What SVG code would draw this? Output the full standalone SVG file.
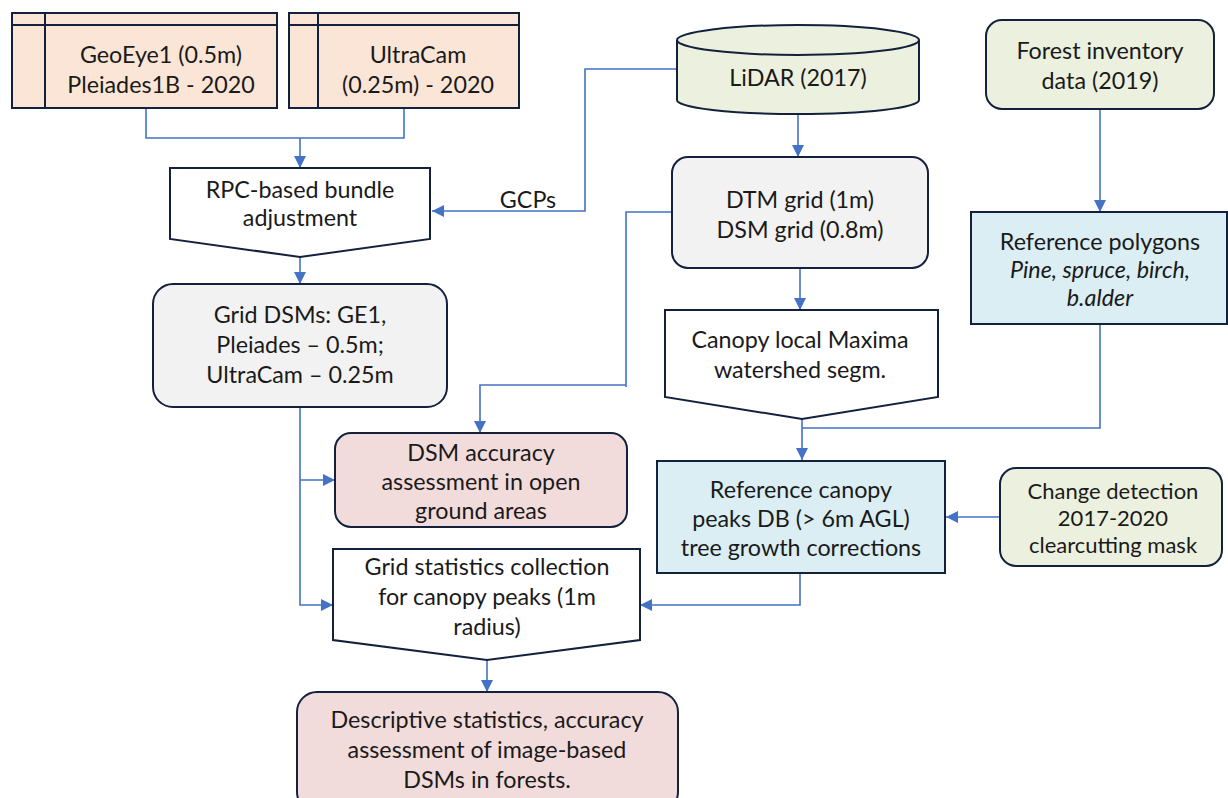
<svg xmlns="http://www.w3.org/2000/svg" width="1228" height="798" viewBox="0 0 1228 798">
<style>
.box{stroke:#14213d;stroke-width:2}
.peach{fill:#fbe5d6}
.green{fill:#ebf1de}
.gray{fill:#f2f2f2}
.pink{fill:#f2dcdb}
.blue{fill:#dbeef4}
.white{fill:#ffffff}
.in{fill:none;stroke:#14213d;stroke-width:2}
text{font-family:Lato,"Liberation Sans",sans-serif;font-size:23.3px;fill:#1a1a1a;text-anchor:middle}
.it{font-style:italic}
.sm{font-size:22px}
.con{fill:none;stroke:#4472c4;stroke-width:1.6}
</style>
<defs>
<marker id="ah" markerUnits="userSpaceOnUse" markerWidth="14" markerHeight="14" refX="12" refY="7" orient="auto">
<path d="M0,1 L12,7 L0,13 Z" fill="#4472c4"/>
</marker>
</defs>
<rect width="1228" height="798" fill="#ffffff"/>
<g id="connectors">
<path class="con" d="M146,108 V138 H404 V108"/>
<path class="con" d="M300,138 V168" marker-end="url(#ah)"/>
<path class="con" d="M677,69 H585 V211 H432" marker-end="url(#ah)"/>
<path class="con" d="M798,113 V157" marker-end="url(#ah)"/>
<path class="con" d="M300,257 V284" marker-end="url(#ah)"/>
<path class="con" d="M672,212 H626 V387"/>
<path class="con" d="M626,385 H480 V433" marker-end="url(#ah)"/>
<path class="con" d="M800,268 V310" marker-end="url(#ah)"/>
<path class="con" d="M1100,109 V212" marker-end="url(#ah)"/>
<path class="con" d="M1100,324 V428 H802"/>
<path class="con" d="M802,419 V460" marker-end="url(#ah)"/>
<path class="con" d="M1000,517 H946" marker-end="url(#ah)"/>
<path class="con" d="M300,407 V605 H333" marker-end="url(#ah)"/>
<path class="con" d="M300,480 H335" marker-end="url(#ah)"/>
<path class="con" d="M800,573 V605 H640" marker-end="url(#ah)"/>
<path class="con" d="M487,660 V692" marker-end="url(#ah)"/>
<text x="528" y="208">GCPs</text>
</g>
<g id="geoeye">
<rect class="box peach" x="12" y="13" width="265" height="95"/>
<path class="in" d="M45,13 V108 M12,25 H277"/>
<text x="161" y="63">GeoEye1 (0.5m)</text>
<text x="161" y="93">Pleiades1B - 2020</text>
</g>
<g id="ultracam">
<rect class="box peach" x="289" y="13" width="230" height="95"/>
<path class="in" d="M318,13 V108 M289,25 H519"/>
<text x="418" y="63">UltraCam</text>
<text x="418" y="93">(0.25m) - 2020</text>
</g>
<g id="lidar">
<path class="box green" d="M677,40 V100 A121,14 0 0 0 919,100 V40 A121,15 0 0 0 677,40 Z"/>
<path class="in" d="M677,40 A121,15 0 0 0 919,40"/>
<text x="798" y="86">LiDAR (2017)</text>
</g>
<g id="forest">
<rect class="box green" x="986" y="20" width="228" height="89" rx="16"/>
<text x="1100" y="59">Forest inventory</text>
<text x="1100" y="89">data (2019)</text>
</g>
<g id="rpc">
<path class="box white" d="M170,168 H430 V239 L300,257 L170,239 Z"/>
<text x="300" y="198">RPC-based bundle</text>
<text x="300" y="226">adjustment</text>
</g>
<g id="dtm">
<rect class="box gray" x="672" y="157" width="256" height="111" rx="16"/>
<text x="800" y="208">DTM grid (1m)</text>
<text x="800" y="238">DSM grid (0.8m)</text>
</g>
<g id="refpoly">
<rect class="box blue" x="971" y="212" width="256" height="112"/>
<text x="1100" y="250">Reference polygons</text>
<text class="it" x="1100" y="278">Pine, spruce, birch,</text>
<text class="it" x="1100" y="306">b.alder</text>
</g>
<g id="griddsm">
<rect class="box gray" x="153" y="284" width="294" height="123" rx="20"/>
<text x="300" y="323">Grid DSMs: GE1,</text>
<text x="300" y="353">Pleiades – 0.5m;</text>
<text x="300" y="383">UltraCam – 0.25m</text>
</g>
<g id="canopy">
<path class="box white" d="M665,310 H938 V397 L802,419 L665,397 Z"/>
<text x="800" y="348">Canopy local Maxima</text>
<text x="800" y="378">watershed segm.</text>
</g>
<g id="dsmacc">
<rect class="box pink" x="335" y="433" width="292" height="94" rx="16"/>
<text x="481" y="461">DSM accuracy</text>
<text x="481" y="490">assessment in open</text>
<text x="481" y="519">ground areas</text>
</g>
<g id="refcanopy">
<rect class="box blue" x="657" y="461" width="288" height="112"/>
<text x="801" y="498">Reference canopy</text>
<text x="801" y="527">peaks DB (&gt; 6m AGL)</text>
<text x="801" y="556">tree growth corrections</text>
</g>
<g id="change">
<rect class="box green" x="1000" y="468" width="222" height="98" rx="16"/>
<text class="sm" x="1113" y="499">Change detection</text>
<text class="sm" x="1113" y="526">2017-2020</text>
<text class="sm" x="1113" y="553">clearcutting mask</text>
</g>
<g id="gridstats">
<path class="box white" d="M333,549 H640 V640 L487,660 L333,640 Z"/>
<text x="487" y="575">Grid statistics collection</text>
<text x="487" y="605">for canopy peaks (1m</text>
<text x="487" y="635">radius)</text>
</g>
<g id="descriptive">
<rect class="box pink" x="297" y="692" width="381" height="120" rx="20"/>
<text x="487" y="728">Descriptive statistics, accuracy</text>
<text x="487" y="758">assessment of image-based</text>
<text x="487" y="788">DSMs in forests.</text>
</g>
</svg>
